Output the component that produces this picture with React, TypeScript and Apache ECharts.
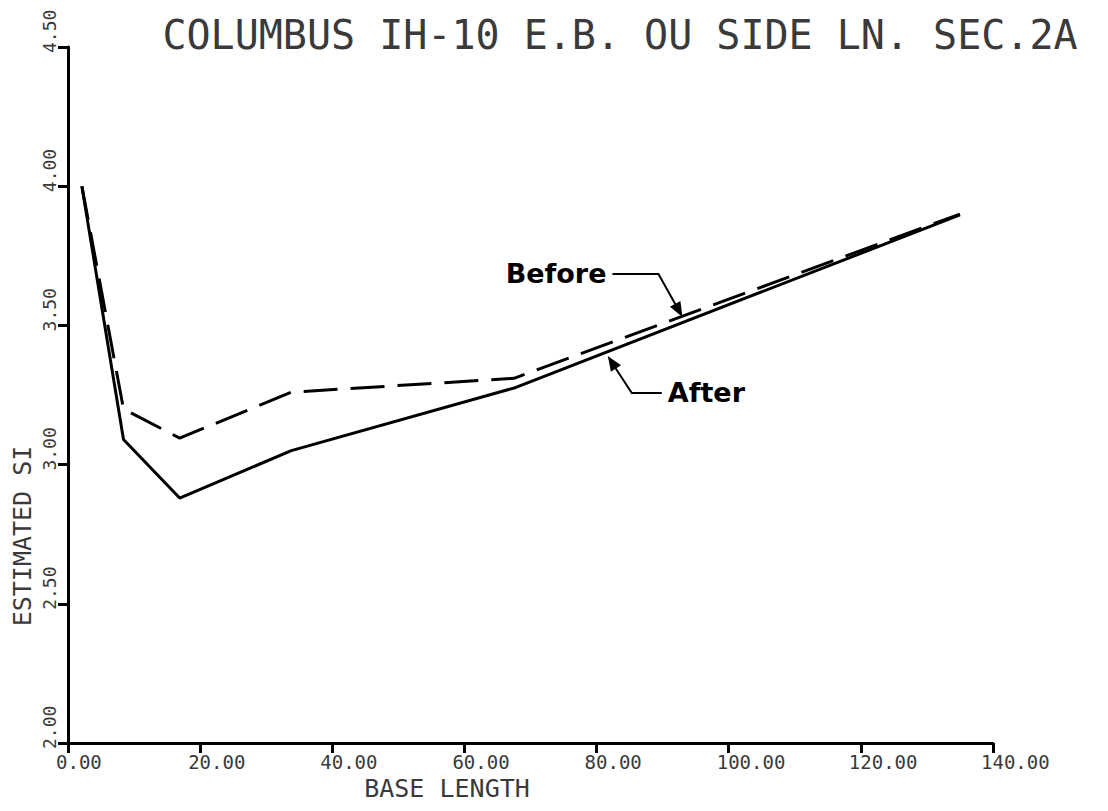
import React, { useEffect, useRef } from 'react';
import * as echarts from 'echarts';

// ---- data ----
const baseLength = [2.1, 8.4, 16.9, 33.8, 67.5, 135];
const siBefore = [4.0, 3.2, 3.095, 3.26, 3.31, 3.9];
const siAfter = [4.0, 3.09, 2.88, 3.05, 3.275, 3.897];

const titleText = 'COLUMBUS IH-10 E.B. OU SIDE LN. SEC.2A';
const xName = 'BASE LENGTH';
const yName = 'ESTIMATED SI';
const beforeLabel = 'Before';
const afterLabel = 'After';
// annotation arrow tips in data coordinates
const beforeTip = [93, 3.53];
const afterTip = [81.7, 3.39];

const MONO = '"DejaVu Sans Mono", "Liberation Mono", monospace';
const INK = '#3a3a3a';

function arrowHead(tip: number[], from: number[], len: number, half: number) {
  const dx = tip[0] - from[0];
  const dy = tip[1] - from[1];
  const l = Math.hypot(dx, dy);
  const ux = dx / l, uy = dy / l;
  const bx = tip[0] - ux * len, by = tip[1] - uy * len;
  const px = -uy, py = ux;
  return {
    type: 'polygon',
    shape: { points: [[tip[0], tip[1]], [bx + px * half, by + py * half], [bx - px * half, by - py * half]] },
    style: { fill: '#000' },
    z: 10,
  };
}

export default function App() {
  const ref = useRef<HTMLDivElement>(null);
  useEffect(() => {
    if (!ref.current) return;
    const chart = echarts.init(ref.current, null, { renderer: 'svg' });
    const option: any = {
      animation: false,
      backgroundColor: '#ffffff',
      grid: { left: 68, right: 115, top: 47, bottom: 68, containLabel: false },
      xAxis: {
        type: 'value',
        min: 0,
        max: 140,
        interval: 20,
        axisLine: { show: true, onZero: false, lineStyle: { color: '#000', width: 3 } },
        axisTick: { show: true, inside: false, length: 10, lineStyle: { color: '#000', width: 3 } },
        splitLine: { show: false },
        axisLabel: {
          formatter: (v: number) => v.toFixed(2),
          align: 'left',
          padding: [0, 0, 0, -12],
          margin: 9,
          interval: 0,
          showMinLabel: true,
          showMaxLabel: true,
          fontFamily: MONO,
          fontSize: 19,
          color: INK,
        },
      },
      yAxis: {
        type: 'value',
        min: 2,
        max: 4.5,
        interval: 0.5,
        axisLine: { show: true, onZero: false, lineStyle: { color: '#000', width: 3 } },
        axisTick: { show: true, inside: false, length: 10, lineStyle: { color: '#000', width: 3 } },
        splitLine: { show: false },
        axisLabel: {
          formatter: (v: number) => v.toFixed(2),
          rotate: 90,
          align: 'left',
          verticalAlign: 'bottom',
          padding: [0, 0, 0, -6],
          margin: 10,
          showMinLabel: true,
          showMaxLabel: true,
          fontFamily: MONO,
          fontSize: 18,
          color: INK,
        },
      },
      series: [
        {
          name: 'Before',
          type: 'line',
          data: baseLength.map((x, i) => [x, siBefore[i]]),
          showSymbol: false,
          lineStyle: { color: '#000', width: 3, type: [34, 13] },
          z: 2,
        },
        {
          name: 'After',
          type: 'line',
          data: baseLength.map((x, i) => [x, siAfter[i]]),
          showSymbol: false,
          lineStyle: { color: '#000', width: 3 },
          z: 3,
        },
      ],
    };
    chart.setOption(option);

    const tb = chart.convertToPixel({ gridIndex: 0 }, beforeTip) as number[];
    const ta = chart.convertToPixel({ gridIndex: 0 }, afterTip) as number[];
    const bElbow = [tb[0] - 24, tb[1] - 43];
    const bStart = [bElbow[0] - 46, bElbow[1]];
    const aElbow = [ta[0] + 24, ta[1] + 37];
    const aEnd = [aElbow[0] + 30, aElbow[1]];

    chart.setOption({
      graphic: [
        {
          type: 'text',
          x: 620,
          y: 35,
          style: { text: titleText, font: `40px ${MONO}`, fill: INK, textAlign: 'center', textVerticalAlign: 'middle' },
        },
        {
          type: 'text',
          x: 447,
          y: 788,
          style: { text: xName, font: `25px ${MONO}`, fill: INK, textAlign: 'center', textVerticalAlign: 'middle' },
        },
        {
          type: 'text',
          x: 22,
          y: 536,
          rotation: Math.PI / 2,
          style: { text: yName, font: `25px ${MONO}`, fill: INK, textAlign: 'center', textVerticalAlign: 'middle' },
        },
        {
          type: 'polyline',
          shape: { points: [bStart, bElbow, [tb[0] - 5, tb[1] - 9]] },
          style: { stroke: '#000', lineWidth: 2, fill: null },
          z: 10,
        },
        arrowHead(tb, bElbow, 15, 6),
        {
          type: 'text',
          x: bStart[0] - 6,
          y: bStart[1] - 1,
          style: { text: beforeLabel, font: 'bold 27px "DejaVu Sans", sans-serif', fill: '#000', textAlign: 'right', textVerticalAlign: 'middle' },
          z: 10,
        },
        {
          type: 'polyline',
          shape: { points: [aEnd, aElbow, [ta[0] + 5, ta[1] + 8]] },
          style: { stroke: '#000', lineWidth: 2, fill: null },
          z: 10,
        },
        arrowHead(ta, aElbow, 15, 6),
        {
          type: 'text',
          x: aEnd[0] + 6,
          y: aEnd[1] - 1,
          style: { text: afterLabel, font: 'bold 27px "DejaVu Sans", sans-serif', fill: '#000', textAlign: 'left', textVerticalAlign: 'middle' },
          z: 10,
        },
      ],
    });

    return () => chart.dispose();
  }, []);

  return (
    <div
      ref={ref}
      style={{ position: 'fixed', left: 0, top: 0, width: 1108, height: 811, background: '#fff' }}
    />
  );
}
